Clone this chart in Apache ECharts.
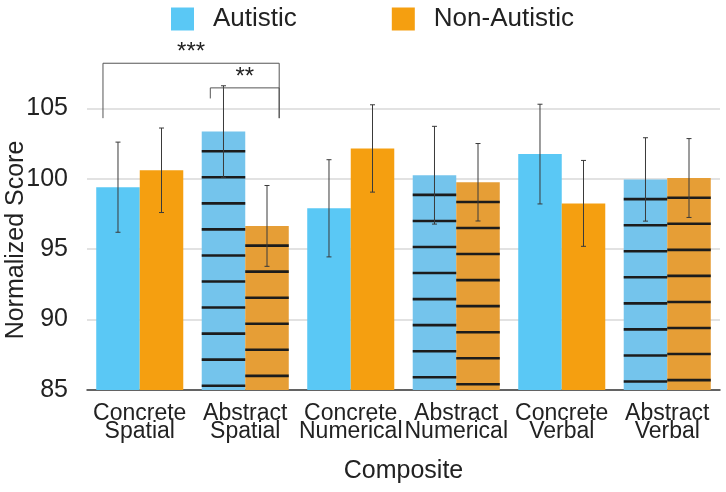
<!DOCTYPE html>
<html>
<head>
<meta charset="utf-8">
<script src="https://cdn.jsdelivr.net/npm/echarts@6/dist/echarts.min.js"></script>
<style>html,body{margin:0;padding:0;background:#fff}#c{width:726px;height:492px}</style>
</head>
<body>
<div id="c"></div>
<script>
const categories = ['Concrete\nSpatial', 'Abstract\nSpatial', 'Concrete\nNumerical', 'Abstract\nNumerical', 'Concrete\nVerbal', 'Abstract\nVerbal'];
const hatched = [0, 1, 0, 1, 0, 1];
const autistic = [99.4, 103.35, 97.9, 100.25, 101.75, 99.95];
const autisticErr = [3.2, 3.25, 3.45, 3.47, 3.54, 2.96];
const nonAutistic = [100.6, 96.65, 102.15, 99.75, 98.25, 100.05];
const nonAutisticErr = [3.0, 2.87, 3.1, 2.75, 3.05, 2.8];
const yTicks = [85, 90, 95, 100, 105];
// significance brackets
const bracketLabels = ['***', '**'];
const bracketFromCat = [0, 1];
const bracketFromGroup = [0, 0];
const bracketToCat = [1, 1];
const bracketToGroup = [1, 1];
const bracketLevel = [108.2, 106.45];
const bracketLeftEnd = [104.3, 105.7];
const bracketRightEnd = [104.3, 104.3];

const FONT = 'Liberation Sans, Arial, sans-serif';
const CAT_GAP = 0.175;
const colors = { aut: '#5AC8F5', autH: '#74C4EC', non: '#F59F10', nonH: '#E69E36' };

function barGeom(api, cat, group) {
  const band = api.size([1, 0])[0];
  const bw = band * (1 - CAT_GAP) / 2;
  const cx = api.coord([cat, 85])[0];
  const left = cx - bw + group * bw;
  return { left: left, width: bw };
}

function makeOverlay(group) {
  return function (params, api) {
    const i = api.value(0), v = api.value(1), e = api.value(2), h = api.value(3);
    const g = barGeom(api, i, group);
    const topY = api.coord([i, v])[1];
    const base = api.coord([i, 85])[1];
    const children = [];
    if (h) {
      for (let y = topY + 19.7; y < base - 1; y += 26.05) {
        children.push({ type: 'line', shape: { x1: g.left, y1: y, x2: g.left + g.width, y2: y },
          style: { stroke: '#1c1c1c', lineWidth: 2.6 } });
      }
    }
    const xm = g.left + g.width / 2;
    const t = api.coord([i, v + e])[1], b = api.coord([i, v - e])[1];
    const st = { stroke: '#3a3a3a', lineWidth: 1 };
    children.push({ type: 'line', shape: { x1: xm, y1: t, x2: xm, y2: b }, style: st });
    children.push({ type: 'line', shape: { x1: xm - 2.5, y1: t, x2: xm + 2.5, y2: t }, style: st });
    children.push({ type: 'line', shape: { x1: xm - 2.5, y1: b, x2: xm + 2.5, y2: b }, style: st });
    return { type: 'group', children: children };
  };
}

function bracketRender(params, api) {
  const k = api.value(2);
  const fromG = barGeom(api, bracketFromCat[k], bracketFromGroup[k]);
  const toG = barGeom(api, bracketToCat[k], bracketToGroup[k]);
  const x1 = fromG.left + fromG.width * (k === 0 ? 0.155 : 0.197);
  const x2 = toG.left + toG.width * 0.78;
  const y = api.coord([0, bracketLevel[k]])[1];
  const yl = api.coord([0, bracketLeftEnd[k]])[1];
  const yr = api.coord([0, bracketRightEnd[k]])[1];
  const st = { stroke: '#555', lineWidth: 1 };
  return { type: 'group', children: [
    { type: 'polyline', shape: { points: [[x1, yl], [x1, y], [x2, y], [x2, yr]] }, style: Object.assign({ fill: null }, st) },
    { type: 'text', x: (x1 + x2) / 2, y: y + 1, style: { text: bracketLabels[k], font: '24px ' + FONT, fill: '#222', align: 'center', verticalAlign: 'bottom' } }
  ] };
}

const chart = echarts.init(document.getElementById('c'), null, { renderer: 'canvas' });
chart.setOption({
  animation: false,
  textStyle: { fontFamily: FONT },
  legend: {
    left: 171, top: 6, padding: 0, itemWidth: 23, itemHeight: 23, itemGap: 95, icon: 'rect',
    textStyle: { fontSize: 26, color: '#222', fontFamily: FONT, padding: [0, 0, 0, 14] },
    data: ['Autistic', 'Non-Autistic']
  },
  grid: { left: 87, right: 6, top: 90, bottom: 102, outerBoundsMode: 'none', containLabel: false },
  xAxis: {
    type: 'category', data: categories,
    name: 'Composite', nameLocation: 'middle', nameGap: 69, nameMoveOverlap: false,
    nameTextStyle: { fontSize: 25, color: '#222', fontFamily: FONT },
    axisLine: { lineStyle: { color: '#3a3a3a', width: 1.5 } },
    axisTick: { show: false },
    axisLabel: { interval: 0, fontSize: 23, lineHeight: 18, color: '#222', margin: 15, fontFamily: FONT, hideOverlap: false }
  },
  yAxis: {
    type: 'value', min: yTicks[0], max: 106.3, interval: 5,
    name: 'Normalized Score', nameLocation: 'middle', nameGap: 58, nameMoveOverlap: false,
    nameTextStyle: { fontSize: 25, color: '#222', fontFamily: FONT },
    axisLine: { show: false }, axisTick: { show: false },
    axisLabel: { fontSize: 25, color: '#222', margin: 19, showMaxLabel: false, fontFamily: FONT },
    splitLine: { showMaxLine: false, lineStyle: { color: '#d8d8d8', width: 1.5 } }
  },
  series: [
    { name: 'Autistic', type: 'bar', barGap: '0%', barCategoryGap: (CAT_GAP * 100) + '%',
      itemStyle: { color: colors.aut },
      data: autistic.map((v, i) => hatched[i] ? { value: v, itemStyle: { color: colors.autH } } : v) },
    { name: 'Non-Autistic', type: 'bar', barGap: '0%', barCategoryGap: (CAT_GAP * 100) + '%',
      itemStyle: { color: colors.non },
      data: nonAutistic.map((v, i) => hatched[i] ? { value: v, itemStyle: { color: colors.nonH } } : v) },
    { type: 'custom', z: 5, clip: false, silent: true, renderItem: makeOverlay(0),
      encode: { x: 0, y: 1 }, data: autistic.map((v, i) => [i, v, autisticErr[i], hatched[i]]) },
    { type: 'custom', z: 5, clip: false, silent: true, renderItem: makeOverlay(1),
      encode: { x: 0, y: 1 }, data: nonAutistic.map((v, i) => [i, v, nonAutisticErr[i], hatched[i]]) },
    { type: 'custom', z: 6, clip: false, silent: true, renderItem: bracketRender,
      encode: { x: 0, y: 1 }, data: bracketLabels.map((l, k) => [bracketFromCat[k], bracketLevel[k], k]) }
  ]
});
</script>
</body>
</html>
